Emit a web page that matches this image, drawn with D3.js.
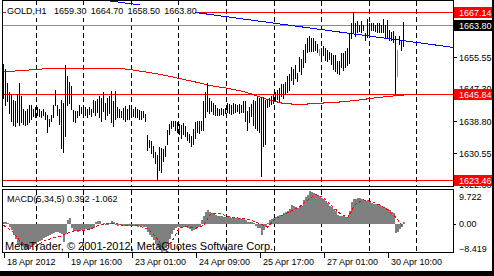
<!DOCTYPE html>
<meta charset="utf-8" />
<title>GOLD,H1</title>
<script src="https://d3js.org/d3.v7.min.js"></script>
<style>
body { margin: 0; background: #fff; }
svg { display: block; font-family: 'Liberation Sans', Arial, sans-serif; }
text { font-size: 9px; fill: #000; }
.crisp { shape-rendering: crispEdges; }
.axis path { display: none; }
.axis line { stroke: #000; shape-rendering: crispEdges; }
</style>
<div id="chart"></div>
<script>
// GOLD H1 bars, 18 Apr 2012 -> 30 Apr 2012 (one entry per hour)
var highs = [1653.7,1652.4,1648.8,1646.5,1646.0,1644.3,1644.0,1646.0,1648.8,1645.5,
  1642.0,1641.5,1642.0,1643.0,1643.0,1642.0,1642.5,1642.5,1642.0,1641.5,
  1642.0,1641.2,1640.5,1639.5,1640.5,1643.0,1647.0,1643.0,1642.0,1644.3,
  1643.5,1653.5,1650.5,1649.0,1648.0,1641.8,1641.5,1641.5,1643.0,1642.5,
  1643.0,1642.5,1642.0,1642.5,1642.0,1644.3,1644.0,1644.6,1645.3,1645.0,
  1646.5,1643.5,1645.0,1645.5,1646.6,1644.0,1646.8,1642.5,1642.0,1641.5,
  1642.3,1642.8,1642.0,1643.0,1642.5,1642.0,1642.4,1642.0,1641.8,1641.5,
  1641.5,1640.8,1635.3,1634.0,1633.8,1632.5,1630.8,1630.0,1632.0,1631.8,
  1631.5,1632.5,1636.5,1638.0,1639.0,1638.8,1639.0,1638.5,1638.0,1637.8,
  1638.3,1637.5,1636.0,1635.5,1635.0,1636.8,1638.5,1639.0,1639.0,1639.0,
  1644.0,1646.5,1648.8,1645.0,1644.0,1643.5,1643.0,1642.3,1642.0,1642.2,
  1642.0,1642.3,1643.5,1643.2,1643.0,1643.5,1643.3,1643.0,1643.4,1643.0,
  1644.2,1644.0,1641.5,1642.5,1643.3,1644.3,1644.0,1645.1,1644.8,1645.1,
  1645.1,1644.4,1644.5,1644.8,1645.3,1646.0,1646.5,1647.0,1647.5,1648.5,
  1648.5,1649.0,1650.5,1651.0,1653.0,1652.5,1653.5,1651.5,1655.5,1655.0,
  1657.5,1659.0,1660.5,1661.0,1660.5,1660.5,1659.8,1659.0,1657.6,1657.8,
  1658.5,1658.0,1657.5,1656.8,1656.5,1656.0,1656.0,1654.5,1654.5,1656.5,
  1656.5,1657.0,1658.0,1661.5,1664.5,1667.14,1664.5,1665.0,1664.0,1665.0,
  1664.0,1661.8,1665.5,1664.5,1664.5,1664.5,1664.0,1664.5,1664.5,1664.0,
  1665.5,1664.0,1665.3,1662.5,1662.0,1662.2,1661.0,1657.4,1661.0,1660.0,
  1664.7];
var lows = [1645.0,1643.0,1644.0,1641.0,1639.0,1637.8,1637.5,1638.5,1637.8,1638.5,
  1638.0,1637.8,1638.0,1638.7,1639.5,1640.2,1640.0,1640.5,1640.2,1639.8,
  1640.4,1639.5,1636.0,1637.5,1639.0,1640.0,1643.0,1640.5,1638.0,1631.8,
  1630.8,1635.0,1643.0,1643.5,1642.0,1639.0,1638.5,1640.0,1640.5,1641.0,
  1641.0,1640.5,1640.0,1640.8,1640.2,1641.2,1640.5,1641.3,1640.0,1639.0,
  1641.5,1639.5,1640.5,1641.0,1638.5,1637.7,1639.5,1640.0,1640.0,1639.8,
  1639.5,1639.0,1639.5,1639.3,1640.0,1640.2,1640.0,1639.8,1639.5,1639.4,
  1640.0,1639.0,1631.3,1632.0,1630.5,1629.5,1628.0,1623.46,1626.0,1625.5,
  1628.5,1629.8,1633.0,1635.5,1637.0,1637.5,1636.5,1636.0,1635.5,1634.5,
  1635.5,1635.0,1634.0,1633.3,1632.5,1633.0,1634.5,1636.0,1635.8,1636.5,
  1636.5,1640.0,1641.5,1641.0,1641.5,1640.8,1640.5,1640.5,1640.5,1640.6,
  1640.4,1641.0,1641.2,1641.0,1640.8,1641.0,1641.2,1641.5,1641.0,1641.2,
  1641.2,1638.8,1636.5,1638.5,1640.2,1637.8,1637.0,1636.5,1636.0,1624.5,
  1632.3,1633.0,1642.6,1642.8,1643.2,1643.5,1644.0,1644.5,1644.2,1645.5,
  1645.0,1645.8,1646.5,1647.0,1649.5,1648.5,1650.0,1649.3,1651.8,1651.0,
  1653.0,1654.3,1656.8,1657.0,1657.0,1657.2,1657.5,1656.8,1656.0,1655.2,
  1656.0,1654.8,1654.5,1655.0,1653.8,1652.5,1652.0,1651.3,1651.0,1653.0,
  1652.2,1653.0,1653.5,1654.0,1660.5,1662.0,1661.0,1662.0,1662.3,1662.0,
  1662.5,1660.0,1660.8,1662.0,1662.6,1662.6,1662.3,1662.0,1662.0,1662.0,
  1662.0,1660.8,1660.8,1660.0,1660.0,1659.5,1645.84,1650.6,1659.0,1657.5,
  1658.5];
var dojiBars = [158, 197];

// moving average, read every 8 bars
var maBars = [0,8,16,24,32,40,48,56,60,64,72,80,88,96,104,112,120,124,128,132,136,140,144,152,160,168,176,184,192,200];
var maValues = [1651.72,1651.98,1652.29,1652.61,1652.61,1652.61,1652.61,1652.61,1652.48,1652.22,1651.57,1650.86,1649.95,1649.04,1648.05,1647.40,1646.57,1645.91,1645.21,1644.48,1643.96,1643.44,1643.31,1643.31,1643.57,1643.83,1644.22,1644.79,1645.26,1645.65];

// trend line through two bars
var trendBars = [100, 200];
var trendValues = [1666.85, 1659.8];

var levels = [1667.14, 1645.84, 1623.46];
var bid = 1663.80;
var priceTicks = [1663.80, 1655.55, 1647.30, 1638.80, 1630.55, 1622.30];

// MACD(5,34,5)
var macd = [0.6,0.5,0.3,-1.0,-1.8,-3.5,-4.5,-6.0,-6.3,-6.6,
  -6.8,-7.5,-7.6,-7.4,-6.6,-6.2,-6.0,-5.3,-5.0,-4.8,
  -4.2,-4.0,-3.8,-3.5,-3.0,-2.9,-2.6,-2.5,-2.9,-3.2,
  -5.5,-3.0,1.2,1.6,-1.4,-2.2,-2.3,-2.4,-2.1,-1.8,
  -1.8,-1.7,-1.9,-1.6,-1.3,-1.2,0.6,0.8,0.7,-0.4,
  0.3,-0.5,-0.3,0.2,0.7,0.6,-0.3,-0.6,-0.5,-0.7,
  -0.8,-0.6,-0.7,-0.8,-0.7,-0.6,-0.8,-0.9,-0.8,-0.7,
  -0.9,-1.0,-2.6,-3.3,-4.1,-4.9,-6.0,-7.3,-7.9,-8.419,
  -8.1,-7.3,-6.1,-4.6,-3.2,-2.0,-1.3,-1.0,-0.9,-1.0,
  -1.0,-1.1,-1.2,-1.7,-2.1,-1.9,-1.3,-1.0,-0.9,1.2,
  2.4,3.5,4.0,3.6,3.3,2.9,2.6,2.4,2.3,2.2,
  2.1,2.0,2.0,1.9,1.8,1.8,1.7,1.7,1.6,1.5,
  1.4,1.1,0.6,0.5,0.5,0.3,-0.6,-1.2,-1.4,-3.3,
  -2.0,-1.0,0.3,1.0,1.3,1.8,2.1,2.4,2.5,2.6,
  3.2,3.4,3.9,4.4,5.6,5.2,4.9,4.7,4.9,5.2,
  7.0,7.8,8.6,9.722,9.5,9.2,8.9,8.5,8.2,7.7,
  7.3,6.7,6.3,5.4,4.9,4.4,3.9,2.5,2.3,2.3,
  2.2,2.1,2.1,3.9,6.5,7.2,7.3,7.5,7.5,7.4,
  7.1,6.8,6.9,6.6,6.2,6.0,5.9,5.6,5.5,5.3,
  5.1,4.6,4.4,4.0,3.4,3.1,-2.9,-2.4,-1.6,-0.9,
  0.392];
// signal line, read every 4 bars
var signalStep = 4;
var signal = [-0.5,-2.0,-5.0,-6.8,-6.8,-5.2,-4.4,-3.8,-2.8,-2.0,
  -2.0,-1.5,-0.4,0.0,0.1,-0.6,-0.6,-0.7,-1.5,-3.8,
  -7.2,-5.5,-1.2,-0.9,-1.4,-0.5,3.2,3.0,2.2,1.8,
  1.5,1.0,0.0,-1.0,1.5,2.6,3.8,5.0,7.0,8.7,
  7.8,5.4,3.2,1.8,5.8,7.1,6.6,5.6,4.2,2.0,
  -1.062];
var macdTicks = [9.722, 0, -8.419];

var timeBars = [0, 32, 64, 96, 128, 160, 192];
var timeLabels = ["18 Apr 2012", "19 Apr 16:00", "23 Apr 01:00", "24 Apr 09:00", "25 Apr 17:00", "27 Apr 01:00", "30 Apr 10:00"];

var header = ["GOLD,H1", "1659.30", "1664.70", "1658.50", "1663.80"];
var macdTitle = "MACD(5,34,5) 0.392 -1.062";
var copyright = "MetaTrader, \u00a9 2001-2012, MetaQuotes Software Corp.";

var W = 494, H = 276;
var svg = d3.select("#chart").append("svg").attr("width", W).attr("height", H);

var x = d3.scaleLinear().domain([0, 200]).range([3.5, 403.5]);
var y = d3.scaleLinear().domain([1621.70, 1670.13]).range([187, 1]);
var ym = d3.scaleLinear().domain([-8.419, 9.722]).range([252, 191]);

var defs = svg.append("defs");
defs.append("clipPath").attr("id", "clipMain").append("rect")
  .attr("x", 3).attr("y", 1).attr("width", 450).attr("height", 185);
defs.append("clipPath").attr("id", "clipMacd").append("rect")
  .attr("x", 3).attr("y", 190).attr("width", 450).attr("height", 62);

var main = svg.append("g").attr("clip-path", "url(#clipMain)");
var sub = svg.append("g").attr("clip-path", "url(#clipMacd)");

// vertical dotted grid
var gridBars = d3.range(9).map(function(k) { return 16 + k * 23.8; });
[[main, 1, 187], [sub, 190, 253]].forEach(function(p) {
  p[0].selectAll(".vgrid").data(gridBars).enter().append("line")
    .attr("class", "crisp")
    .attr("x1", function(d) { return Math.round(x(d)) + 0.5; })
    .attr("x2", function(d) { return Math.round(x(d)) + 0.5; })
    .attr("y1", p[1]).attr("y2", p[2])
    .attr("stroke", "#000").attr("stroke-dasharray", "5,3");
});

// bid line
main.append("line").attr("class", "crisp")
  .attr("x1", 3).attr("x2", 453)
  .attr("y1", Math.round(y(bid)) + 0.5).attr("y2", Math.round(y(bid)) + 0.5)
  .attr("stroke", "#8c8c8c");

// level lines
main.selectAll(".level").data(levels).enter().append("line")
  .attr("class", "crisp")
  .attr("x1", 3).attr("x2", 453)
  .attr("y1", function(d) { return Math.round(y(d)) + 0.5; })
  .attr("y2", function(d) { return Math.round(y(d)) + 0.5; })
  .attr("stroke", "#ff0000");

// moving average
main.append("path")
  .datum(d3.zip(maBars, maValues))
  .attr("class", "crisp")
  .attr("fill", "none").attr("stroke", "#ff0000")
  .attr("d", d3.line().x(function(d) { return x(d[0]); }).y(function(d) { return y(d[1]); }));

// trend line, extended across the panel
var slope = (trendValues[1] - trendValues[0]) / (trendBars[1] - trendBars[0]);
var tb0 = x.invert(2), tb1 = x.invert(453);
main.append("line").attr("class", "crisp")
  .attr("x1", x(tb0)).attr("y1", y(trendValues[0] + slope * (tb0 - trendBars[0])))
  .attr("x2", x(tb1)).attr("y2", y(trendValues[0] + slope * (tb1 - trendBars[0])))
  .attr("stroke", "#0000ff");

// price bars
main.selectAll(".bar").data(highs).enter().append("line")
  .attr("class", "crisp")
  .attr("x1", function(d, i) { return x(i); })
  .attr("x2", function(d, i) { return x(i); })
  .attr("y1", function(d) { return Math.round(y(d)); })
  .attr("y2", function(d, i) { return Math.round(y(lows[i])) + 1; })
  .attr("stroke", function(d, i) { return dojiBars.indexOf(i) >= 0 ? "#33cc33" : "#000"; });

// header with its white box
var hdr = svg.append("g");
hdr.append("rect").attr("x", 6).attr("y", 5).attr("width", 189).attr("height", 13).attr("fill", "#fff");
var hx = 7;
header.forEach(function(s, i) {
  var t = hdr.append("text").attr("x", hx).attr("y", 14).text(s);
  hx += t.node().getComputedTextLength() + (i == 0 ? 7.5 : 4.2);
});

// MACD histogram
sub.selectAll(".hist").data(macd).enter().append("rect")
  .attr("class", "crisp")
  .attr("x", function(d, i) { return x(i) - 0.5; })
  .attr("width", 2)
  .attr("y", function(d) { return Math.round(ym(Math.max(d, 0))); })
  .attr("height", function(d) { return Math.max(1, Math.abs(Math.round(ym(d)) - Math.round(ym(0)))); })
  .attr("fill", "#808080");

sub.append("path")
  .datum(signal)
  .attr("fill", "none").attr("stroke", "#ff0000")
  .attr("stroke-dasharray", "3,2")
  .attr("class", "crisp")
  .attr("d", d3.line().x(function(d, i) { return x(i * signalStep); }).y(function(d) { return ym(d); }));

svg.append("text").attr("x", 7).attr("y", 202).text(macdTitle);
svg.append("text").attr("x", 5).attr("y", 250).style("font-size", "11px").text(copyright);

// panel frames
svg.append("rect").attr("class", "crisp")
  .attr("x", 2.5).attr("y", 0.5).attr("width", 451).attr("height", 186)
  .attr("fill", "none").attr("stroke", "#000");
svg.append("rect").attr("class", "crisp")
  .attr("x", 2.5).attr("y", 189.5).attr("width", 451).attr("height", 63)
  .attr("fill", "none").attr("stroke", "#000");

// price axis
var pAxis = svg.append("g").attr("class", "axis").attr("transform", "translate(453,0)")
  .call(d3.axisRight(y).tickValues(priceTicks).tickSize(4).tickPadding(2).tickFormat(d3.format(".2f")));
pAxis.selectAll("text").style("font-size", "9px").attr("dy", "0.35em");

// MACD axis
var mAxis = svg.append("g").attr("class", "axis").attr("transform", "translate(453,0)")
  .call(d3.axisRight(ym).tickValues(macdTicks).tickSize(3).tickPadding(3).tickFormat(function(d) {
    return d == 0 ? "0.00" : d3.format(".3f")(d);
  }));
mAxis.selectAll("text").style("font-size", "9px")
  .attr("dy", function(d) { return d > 0 ? "0.95em" : (d < 0 ? "-0.1em" : "0.35em"); });
mAxis.selectAll(".tick").filter(function(d) { return d != 0; }).select("line").remove();

// price tags on the axis
function tag(v, color) {
  var yy = Math.round(y(v));
  svg.append("rect").attr("x", 454).attr("y", yy - 5).attr("width", 38).attr("height", 11).attr("fill", color);
  svg.append("text").attr("x", 459).attr("y", yy + 3.5).style("fill", "#fff").text(v.toFixed(2));
}
levels.forEach(function(v) { tag(v, "#ff0000"); });
tag(bid, "#000");

// time axis
var tAxis = svg.append("g").attr("class", "axis").attr("transform", "translate(0,253)")
  .call(d3.axisBottom(x).tickValues(timeBars).tickSize(5).tickFormat(function(d, i) { return timeLabels[i]; }));
tAxis.selectAll("text").style("font-size", "9px").attr("text-anchor", "start").attr("x", 3).attr("y", 6).attr("dy", "0.71em");

// window edges
svg.append("rect").attr("x", 492).attr("y", 0).attr("width", 2).attr("height", H).attr("fill", "#000");
svg.append("rect").attr("x", 0).attr("y", 271).attr("width", W).attr("height", 5).attr("fill", "#000");
</script>
